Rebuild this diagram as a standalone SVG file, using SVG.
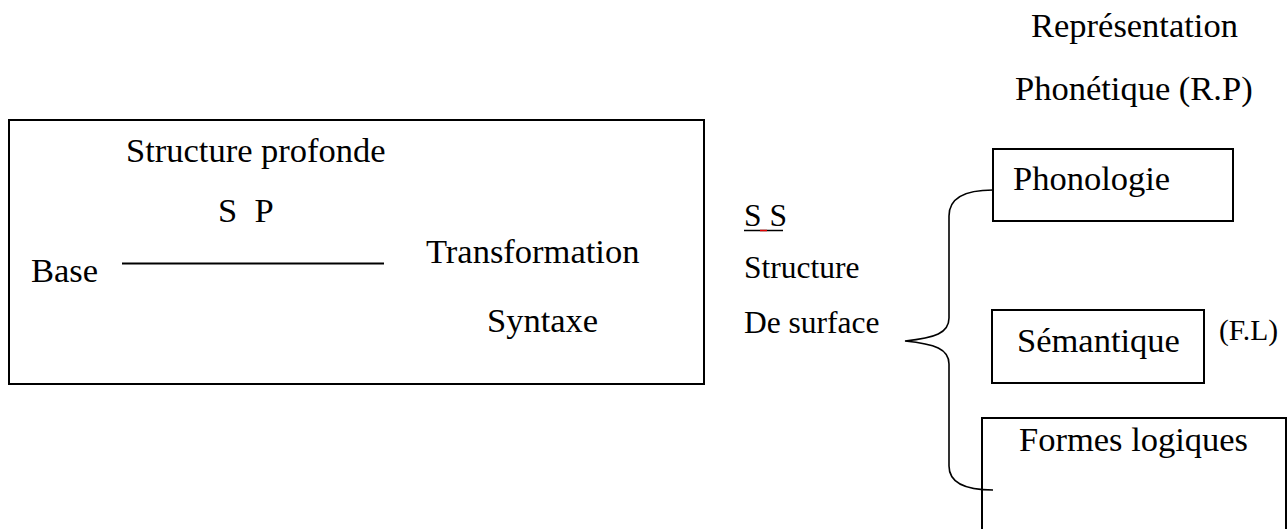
<svg xmlns="http://www.w3.org/2000/svg" width="1287" height="529" viewBox="0 0 1287 529" font-family="'Liberation Serif', 'DejaVu Serif', serif">
  <style>
    text { font-family: 'Liberation Serif', 'DejaVu Serif', serif; fill: #000; }
    .t { font-size: 34.5px; }
    .s { font-size: 31.5px; }
    .box { fill: none; stroke: #000; stroke-width: 2; }
    .line { fill: none; stroke: #000; stroke-width: 2; }
    .brace { fill: none; stroke: #000; stroke-width: 1.6; }
  </style>
  <rect width="1287" height="529" fill="#fff"/>

  <!-- Deep structure / base component -->
  <g id="base-component">
    <rect class="box" x="9" y="120" width="695" height="264"/>
    <text class="t" x="126" y="162">Structure profonde</text>
    <text class="t" x="218" y="222" xml:space="preserve">S  P</text>
    <text class="t" x="31" y="282">Base</text>
    <text class="t" x="426" y="263">Transformation</text>
    <text class="t" x="487" y="332">Syntaxe</text>
  </g>

  <!-- Surface structure label -->
  <g id="surface-structure">
    <text class="s" x="744" y="226">S S</text>
    <line x1="744" y1="230.5" x2="783" y2="230.5" stroke="#000" stroke-width="1.5"/>
    <line x1="760" y1="230.5" x2="767" y2="230.5" stroke="#e00000" stroke-width="1.5"/>
    <text class="s" x="744" y="278">Structure</text>
    <text class="s" x="744" y="333">De surface</text>
  </g>

  <!-- Phonetic representation heading -->
  <g id="phonetic-representation">
    <text class="t" x="1031" y="37">Représentation</text>
    <text class="t" x="1015" y="100">Phonétique (R.P)</text>
  </g>

  <g id="phonologie">
    <rect class="box" x="993" y="149" width="240" height="72"/>
    <text class="t" x="1013" y="190">Phonologie</text>
  </g>

  <g id="semantique">
    <rect class="box" x="992" y="310" width="212" height="73"/>
    <text class="t" x="1017" y="352">Sémantique</text>
    <text x="1219" y="340" style="font-size:29.5px">(F.L)</text>
  </g>

  <g id="formes-logiques">
    <rect class="box" x="982" y="418" width="304" height="130"/>
    <text class="t" x="1019" y="451">Formes logiques</text>
  </g>

  <!-- Connectors -->
  <g id="connectors">
    <line class="line" x1="122" y1="263.5" x2="384" y2="263.5"/>
    <path class="brace" d="M993,190 C962,190 949,200 949,216 L949,318 C949,333 935,338 905,341 C935,344 949,349 949,364 L949,466 C949,481 962,490 993,490"/>
  </g>
</svg>
